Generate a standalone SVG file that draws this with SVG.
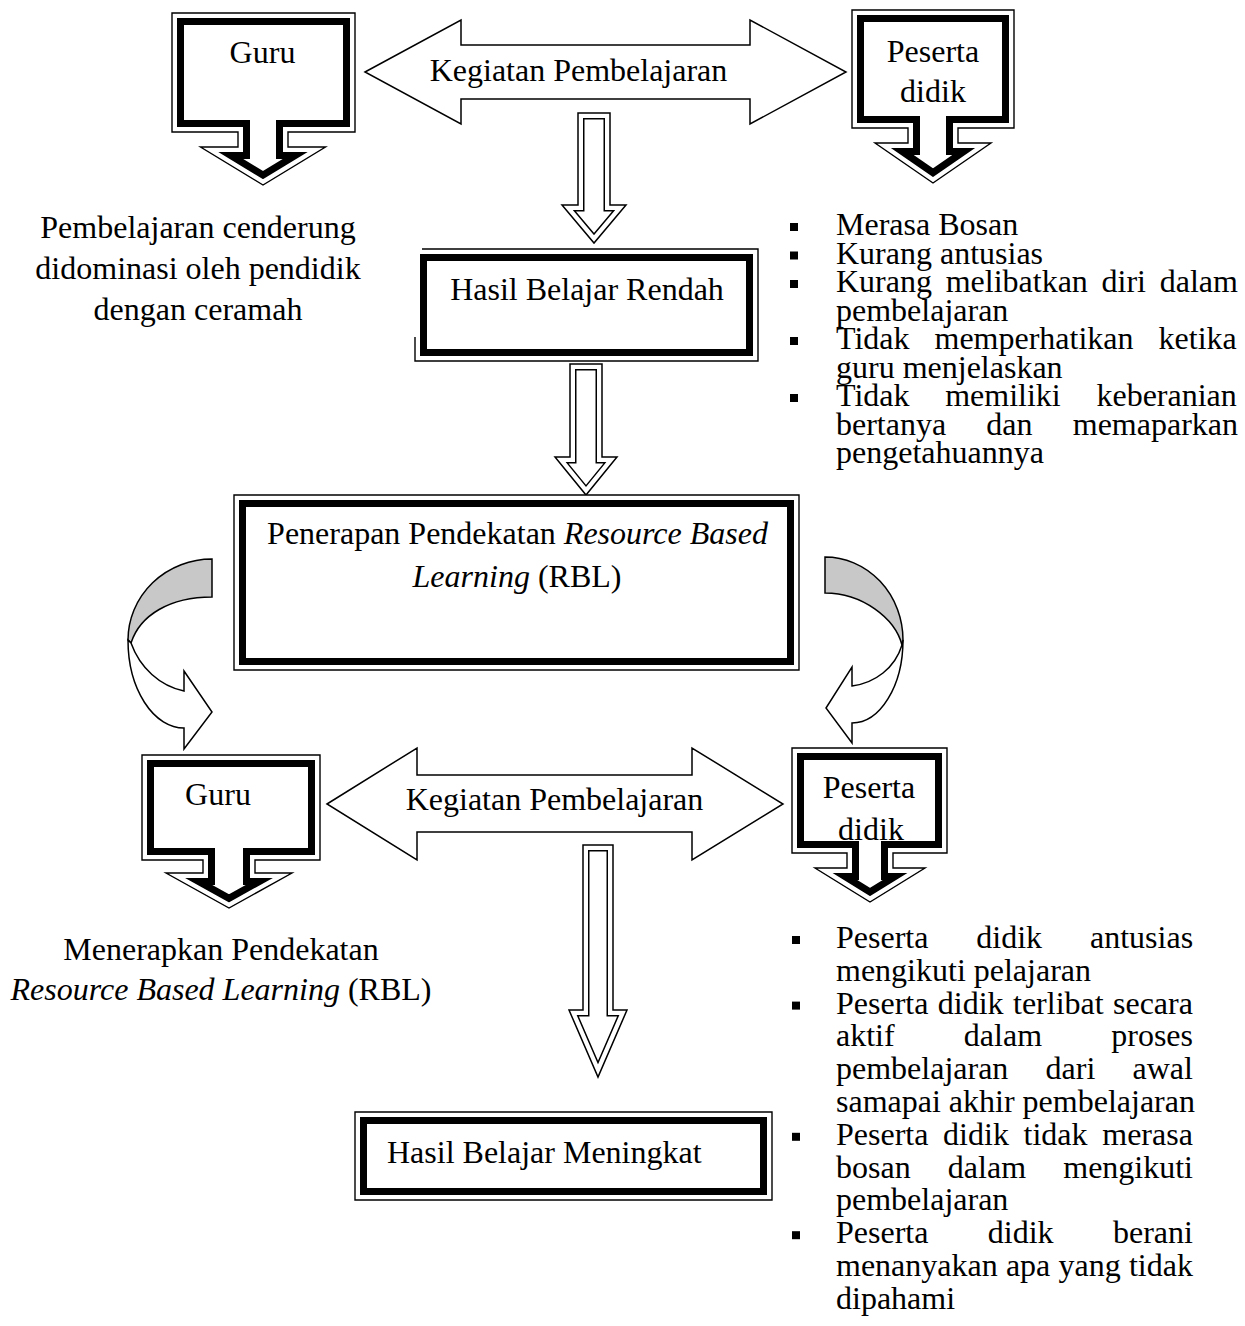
<svg xmlns="http://www.w3.org/2000/svg" width="1245" height="1326" viewBox="0 0 1245 1326">
<style>
 text{font-family:"Liberation Serif","Times New Roman",serif;font-size:32px;fill:#000}
 .c{text-anchor:middle}
 .i{font-style:italic}
 .bg{fill:#fff;stroke:none}
 .band{fill:none;stroke:#000;stroke-width:24;stroke-linejoin:miter;stroke-miterlimit:10}
 .gap{fill:none;stroke:#fff;stroke-width:10;stroke-linejoin:miter;stroke-miterlimit:10}
 .thin{fill:none;stroke:#000;stroke-width:1.4;stroke-linejoin:miter}
 .dband{fill:none;stroke:#000;stroke-width:13;stroke-linejoin:miter;stroke-miterlimit:10}
 .dgap{fill:none;stroke:#fff;stroke-width:10;stroke-linejoin:miter;stroke-miterlimit:10}
 .dthin{fill:none;stroke:#000;stroke-width:1.5;stroke-linejoin:miter}
 .ol{fill:#fff;stroke:#000;stroke-width:1.5;stroke-linejoin:miter}
 .back{fill:#c8c8c8;stroke:#000;stroke-width:1.5;stroke-linejoin:miter}
 .sq{fill:#000}
</style>
<defs>
 <path id="p1" d="M172,13H355V132H288V147H325.5L263,185L200.5,147H238V132H172Z"/>
 <path id="p2" d="M852,10H1014V128H958V143H991L933,183L875,143H908V128H852Z"/>
 <path id="p3" d="M142,755H320V860H255V873H292L229,908L166,873H203V860H142Z"/>
 <path id="p4" d="M792,748H947V853H893V868H925L870,902L815,868H847V853H792Z"/>
 <path id="p5" d="M415,249H758V361H415Z"/>
 <path id="p6" d="M234,495H799V670H234Z"/>
 <path id="p7" d="M355,1112H772V1200H355Z"/>
 <path id="da" d="M578,113H610V205H626L594,243L562,205H578Z"/>
 <path id="db" d="M570,364H602V457H617L586,495L555,457H570Z"/>
 <path id="dc" d="M583,845H613V1010H627L598,1077L569,1010H583Z"/>
 <clipPath id="c1"><use href="#p1"/></clipPath>
 <clipPath id="c2"><use href="#p2"/></clipPath>
 <clipPath id="c3"><use href="#p3"/></clipPath>
 <clipPath id="c4"><use href="#p4"/></clipPath>
 <clipPath id="c5"><use href="#p5"/></clipPath>
 <clipPath id="c6"><use href="#p6"/></clipPath>
 <clipPath id="c7"><use href="#p7"/></clipPath>
 <clipPath id="cda"><use href="#da"/></clipPath>
 <clipPath id="cdb"><use href="#db"/></clipPath>
 <clipPath id="cdc"><use href="#dc"/></clipPath>
</defs>

<g id="connectors">
 <g id="kegiatan-top">
  <path class="ol" d="M365,72L461,20V45H750V20L846,72L750,124V99H461V124Z"/>
  <text class="c" x="578.5" y="81">Kegiatan Pembelajaran</text>
 </g>
 <g id="arrow-a">
  <use href="#da" class="bg"/>
  <g clip-path="url(#cda)"><use href="#da" class="dband"/><use href="#da" class="dgap"/></g>
  <use href="#da" class="dthin"/>
 </g>
 <g id="arrow-b">
  <use href="#db" class="bg"/>
  <g clip-path="url(#cdb)"><use href="#db" class="dband"/><use href="#db" class="dgap"/></g>
  <use href="#db" class="dthin"/>
 </g>
 <g id="curve-left">
  <path class="back" d="M212,559A84,81 0 0 0 128,640L131,643C140,615 170,597 212,597Z"/>
  <path class="ol" d="M128,640A56,88 0 0 0 184,728V749L212,712L184,671V691C160,686 140,668 131,643Z"/>
 </g>
 <g id="curve-right">
  <path class="back" d="M825,557A78,83 0 0 1 903,640L902,645C895,618 862,593 825,593Z"/>
  <path class="ol" d="M903,640A51,83 0 0 1 852,723V743L826,708L852,667V686C875,683 895,668 902,645Z"/>
 </g>
 <g id="kegiatan-bottom">
  <path class="ol" d="M327,804L417,748V775H692V748L783,804L692,860V832H417V860Z"/>
  <text class="c" x="554.5" y="810">Kegiatan Pembelajaran</text>
 </g>
 <g id="arrow-c">
  <use href="#dc" class="bg"/>
  <g clip-path="url(#cdc)"><use href="#dc" class="dband"/><use href="#dc" class="dgap"/></g>
  <use href="#dc" class="dthin"/>
 </g>
</g>

<g id="guru-top">
 <use href="#p1" class="bg"/>
 <g clip-path="url(#c1)"><use href="#p1" class="band"/><use href="#p1" class="gap"/></g>
 <use href="#p1" class="thin"/>
 <text class="c" x="262.5" y="63">Guru</text>
</g>

<g id="peserta-top">
 <use href="#p2" class="bg"/>
 <g clip-path="url(#c2)"><use href="#p2" class="band"/><use href="#p2" class="gap"/></g>
 <use href="#p2" class="thin"/>
 <text class="c" x="933" y="62">Peserta</text>
 <text class="c" x="933" y="102">didik</text>
</g>

<g id="teks-guru-top">
 <text class="c" x="198" y="238">Pembelajaran cenderung</text>
 <text class="c" x="198" y="279">didominasi oleh pendidik</text>
 <text class="c" x="198" y="320">dengan ceramah</text>
</g>

<g id="hasil-rendah">
 <use href="#p5" class="bg"/>
 <g clip-path="url(#c5)"><use href="#p5" class="band"/><use href="#p5" class="gap"/></g>
 <path class="thin" d="M422,249H758V361H415V337"/>
 <text class="c" x="587" y="300">Hasil Belajar Rendah</text>
</g>

<g id="teks-peserta-top">
 <rect class="sq" x="790" y="223" width="8" height="8"/>
 <rect class="sq" x="790" y="251.5" width="8" height="8"/>
 <rect class="sq" x="790" y="280" width="8" height="8"/>
 <rect class="sq" x="790" y="337" width="8" height="8"/>
 <rect class="sq" x="790" y="394" width="8" height="8"/>
 <text x="836" y="235">Merasa Bosan</text>
 <text x="836" y="263.5">Kurang antusias</text>
 <text x="836" y="292" word-spacing="5.7">Kurang melibatkan diri dalam</text>
 <text x="836" y="320.5">pembelajaran</text>
 <text x="836" y="349" word-spacing="17">Tidak memperhatikan ketika</text>
 <text x="836" y="377.5">guru menjelaskan</text>
 <text x="836" y="406" word-spacing="27.7">Tidak memiliki keberanian</text>
 <text x="836" y="434.5" word-spacing="32.2">bertanya dan memaparkan</text>
 <text x="836" y="463">pengetahuannya</text>
</g>

<g id="penerapan">
 <use href="#p6" class="bg"/>
 <g clip-path="url(#c6)"><use href="#p6" class="band"/><use href="#p6" class="gap"/></g>
 <use href="#p6" class="thin"/>
 <text class="c" x="517.5" y="544">Penerapan Pendekatan <tspan class="i">Resource Based</tspan></text>
 <text class="c" x="517" y="587"><tspan class="i">Learning</tspan> (RBL)</text>
</g>

<g id="guru-bottom">
 <use href="#p3" class="bg"/>
 <g clip-path="url(#c3)"><use href="#p3" class="band"/><use href="#p3" class="gap"/></g>
 <use href="#p3" class="thin"/>
 <text class="c" x="218" y="805">Guru</text>
</g>

<g id="peserta-bottom">
 <use href="#p4" class="bg"/>
 <g clip-path="url(#c4)"><use href="#p4" class="band"/><use href="#p4" class="gap"/></g>
 <use href="#p4" class="thin"/>
 <text class="c" x="869" y="798">Peserta</text>
 <text class="c" x="871" y="840">didik</text>
</g>

<g id="teks-guru-bottom">
 <text class="c" x="221" y="960">Menerapkan Pendekatan</text>
 <text class="c" x="221" y="1000"><tspan class="i">Resource Based Learning</tspan> (RBL)</text>
</g>

<g id="hasil-meningkat">
 <use href="#p7" class="bg"/>
 <g clip-path="url(#c7)"><use href="#p7" class="band"/><use href="#p7" class="gap"/></g>
 <use href="#p7" class="thin"/>
 <text x="387" y="1163">Hasil Belajar Meningkat</text>
</g>

<g id="teks-peserta-bottom">
 <rect class="sq" x="792" y="936" width="8" height="8"/>
 <rect class="sq" x="792" y="1001.6" width="8" height="8"/>
 <rect class="sq" x="792" y="1132.8" width="8" height="8"/>
 <rect class="sq" x="792" y="1231.2" width="8" height="8"/>
 <text x="836" y="948" word-spacing="39.9">Peserta didik antusias</text>
 <text x="836" y="980.8">mengikuti pelajaran</text>
 <text x="836" y="1013.6" word-spacing="1.4">Peserta didik terlibat secara</text>
 <text x="836" y="1046.4" word-spacing="61.2">aktif dalam proses</text>
 <text x="836" y="1079.2" word-spacing="29.2">pembelajaran dari awal</text>
 <text x="836" y="1112">samapai akhir pembelajaran</text>
 <text x="836" y="1144.8" word-spacing="6.7">Peserta didik tidak merasa</text>
 <text x="836" y="1177.6" word-spacing="29.2">bosan dalam mengikuti</text>
 <text x="836" y="1210.4">pembelajaran</text>
 <text x="836" y="1243.2" word-spacing="51.4">Peserta didik berani</text>
 <text x="836" y="1276" word-spacing="0.2">menanyakan apa yang tidak</text>
 <text x="836" y="1308.8">dipahami</text>
</g>
</svg>
